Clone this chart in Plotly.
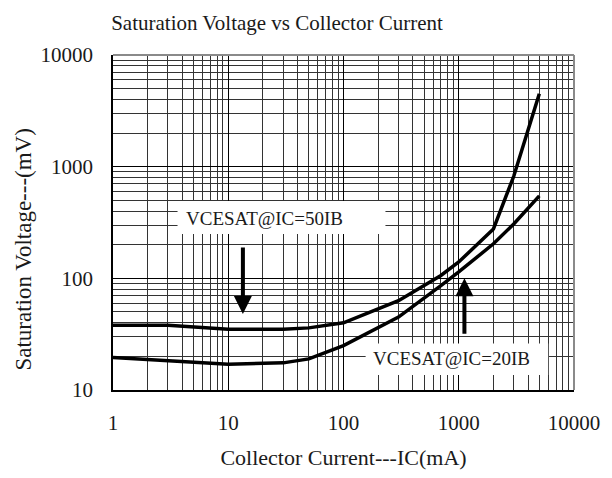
import plotly.graph_objects as go
import math

# ---- data ----
ic_50ib = [1, 3, 10, 30, 50, 100, 300, 700, 1000, 2000, 3000, 5000]
vce_50ib = [38, 38, 35, 35, 36, 40, 63, 106, 140, 277, 820, 4500]

ic_20ib = [1, 3, 5, 10, 30, 50, 100, 300, 700, 1000, 2000, 3000, 5000]
vce_20ib = [19.5, 18.3, 17.8, 17, 17.5, 19, 25, 45, 86, 114, 204, 307, 548]

x_tick_vals = [1, 10, 100, 1000, 10000]
x_tick_text = ["1", "10", "100", "1000", "10000"]
y_tick_vals = [10, 100, 1000, 10000]
y_tick_text = ["10", "100", "1000", "10000"]

label_50 = "VCESAT@IC=50IB"
label_20 = "VCESAT@IC=20IB"

FONT = "Liberation Serif"
TXT = "#1a1a1a"

W, H = 604, 470   # page body has an 8px margin in the viewer
L, R, T, B = 105, 34, 47, 86

fig = go.Figure()
fig.add_trace(go.Scatter(x=ic_50ib, y=vce_50ib, mode="lines",
                         line=dict(color="black", width=3.5), name=label_50))
fig.add_trace(go.Scatter(x=ic_20ib, y=vce_20ib, mode="lines",
                         line=dict(color="black", width=3.5), name=label_20))

axis_common = dict(
    type="log",
    showgrid=True, gridcolor="#000000", gridwidth=1,
    minor=dict(showgrid=True, gridcolor="#333333", gridwidth=1, dtick="D1", ticks=""),
    showline=True, linecolor="#000000", linewidth=1.5,
    ticks="outside", tickcolor="rgba(0,0,0,0)",
    tickfont=dict(family=FONT, size=21, color=TXT),
    zeroline=False, tickmode="array",
)

fig.update_xaxes(range=[0, 4], tickvals=x_tick_vals, ticktext=x_tick_text,
                 ticklen=13, **axis_common)
fig.update_yaxes(range=[1, 4], tickvals=y_tick_vals, ticktext=y_tick_text,
                 ticklen=14, **axis_common)

fig.update_layout(
    width=W, height=H,
    margin=dict(l=L, r=R, t=T, b=B),
    plot_bgcolor="white", paper_bgcolor="white",
    showlegend=False,
    font=dict(family=FONT, color=TXT),
    title=dict(text="Saturation Voltage vs Collector Current",
               font=dict(family=FONT, size=21, color=TXT),
               x=(277 - 8) / W, xref="container", xanchor="center",
               y=1 - 15 / H, yref="container", yanchor="middle"),
    xaxis_title=dict(text="Collector Current---IC(mA)",
                     font=dict(family=FONT, size=22, color=TXT), standoff=16),
)

shapes = [
    # grey top/right border
    dict(type="line", xref="paper", yref="paper", x0=0, x1=1, y0=1, y1=1,
         line=dict(color="#8a8a8a", width=2), layer="above"),
    dict(type="line", xref="paper", yref="paper", x0=1, x1=1, y0=0, y1=1,
         line=dict(color="#8a8a8a", width=2), layer="above"),
    # white label boxes
    dict(type="rect", xref="paper", yref="paper", x0=0.140, x1=0.591, y0=0.466, y1=0.564,
         fillcolor="white", line=dict(width=0), layer="above"),
    dict(type="rect", xref="paper", yref="paper", x0=0.548, x1=0.944, y0=0.0445, y1=0.139,
         fillcolor="white", line=dict(width=0), layer="above"),
]
fig.update_layout(shapes=shapes)

annotations = [
    dict(text="Saturation Voltage---(mV)", xref="paper", yref="paper",
         x=(23 - 113) / 465, y=(392 - 250) / 337, textangle=-90,
         showarrow=False, xanchor="center", yanchor="middle",
         font=dict(family=FONT, size=23, color=TXT)),
    dict(text=label_50, xref="paper", yref="paper",
         x=(266 - 113) / 465, y=(392 - 219) / 337, showarrow=False,
         xanchor="center", yanchor="middle",
         font=dict(family=FONT, size=19, color=TXT)),
    dict(text=label_20, xref="paper", yref="paper",
         x=(454 - 113) / 465, y=(392 - 360) / 337, showarrow=False,
         xanchor="center", yanchor="middle",
         font=dict(family=FONT, size=19, color=TXT)),
    # down arrow pointing at the 50IB curve
    dict(text="", x=math.log10(13.4), y=math.log10(48), xref="x", yref="y",
         showarrow=True, arrowhead=2, arrowsize=0.9, arrowwidth=4,
         arrowcolor="black", ax=0, ay=-68, standoff=0),
    # up arrow pointing at the 20IB curve
    dict(text="", x=math.log10(1120), y=math.log10(100), xref="x", yref="y",
         showarrow=True, arrowhead=2, arrowsize=0.9, arrowwidth=4,
         arrowcolor="black", ax=0, ay=57, standoff=0),
]
fig.update_layout(annotations=annotations)

fig.write_html("out.html")
